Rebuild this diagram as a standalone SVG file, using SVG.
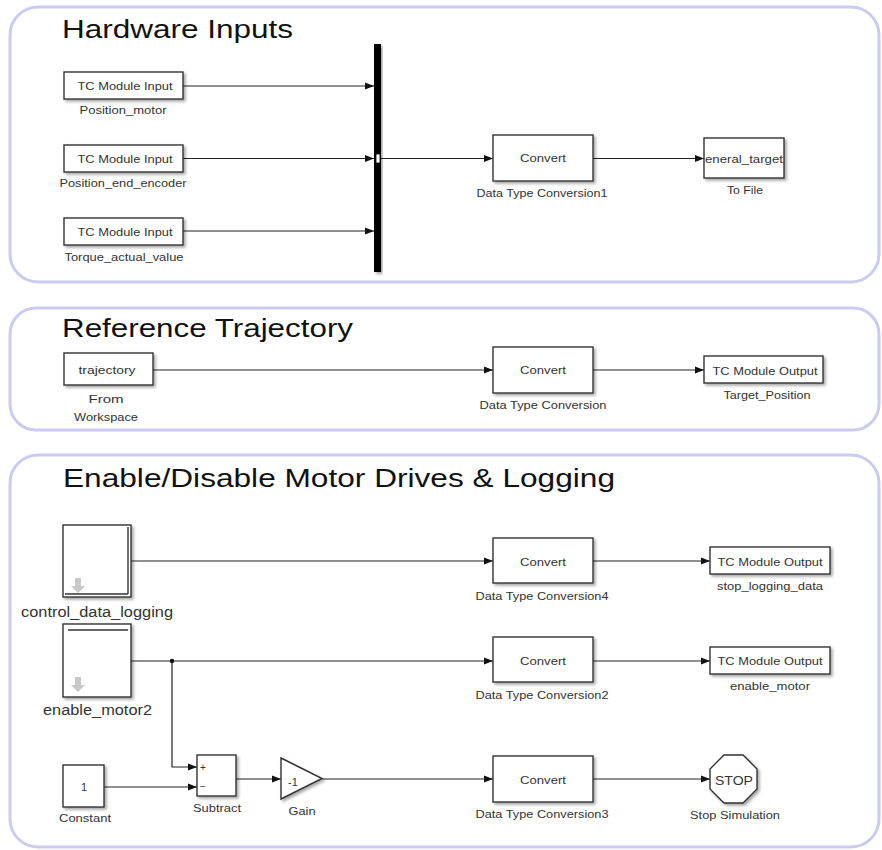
<svg xmlns="http://www.w3.org/2000/svg" width="882" height="850" viewBox="0 0 882 850">
<defs>
<style>
.panel{fill:#fff;stroke:#c9cbf3;stroke-width:3}
.blk{fill:#fff;stroke:#333;stroke-width:1.4;filter:url(#sh)}
.title{font-family:"Liberation Sans",Arial,sans-serif;font-size:25px;fill:#111}
.t{font-family:"Liberation Sans",Arial,sans-serif;font-size:11px;fill:#333;text-anchor:middle}
.tl{font-family:"Liberation Sans",Arial,sans-serif;font-size:14px;fill:#333;text-anchor:middle}
.w{fill:none;stroke:#222;stroke-width:1.2}
.ico{fill:#c8c8c8}
</style>
<filter id="sh" x="-10%" y="-10%" width="130%" height="140%">
<feDropShadow dx="2" dy="2" stdDeviation="1.5" flood-color="#000" flood-opacity="0.35"/>
</filter>
<marker id="ah" viewBox="0 0 10 10" refX="10" refY="5" markerWidth="9" markerHeight="9" markerUnits="userSpaceOnUse" orient="auto">
<path d="M0,1 L10,5 L0,9 z" fill="#111"/>
</marker>
</defs>
<rect width="882" height="850" fill="#fff"/>

<g id="panel-hardware">
<rect class="panel" x="10" y="7" width="869" height="275" rx="28"/>
<text class="title" x="62" y="38" textLength="231" lengthAdjust="spacingAndGlyphs">Hardware Inputs</text>
</g>
<g id="panel-reference">
<rect class="panel" x="10" y="308" width="869" height="122" rx="26"/>
<text class="title" x="62" y="337" textLength="291" lengthAdjust="spacingAndGlyphs">Reference Trajectory</text>
</g>
<g id="panel-enable">
<rect class="panel" x="10" y="455" width="869" height="392" rx="28"/>
<text class="title" x="63" y="487" textLength="552" lengthAdjust="spacingAndGlyphs">Enable/Disable Motor Drives &amp; Logging</text>
</g>

<g id="connectors">
<line class="w" x1="183" y1="86" x2="374" y2="86" marker-end="url(#ah)"/>
<line class="w" x1="183" y1="158.5" x2="374" y2="158.5" marker-end="url(#ah)"/>
<line class="w" x1="183" y1="231" x2="374" y2="231" marker-end="url(#ah)"/>
<line class="w" x1="381" y1="158.5" x2="493" y2="158.5" marker-end="url(#ah)"/>
<line class="w" x1="593" y1="158.5" x2="704" y2="158.5" marker-end="url(#ah)"/>
<line class="w" x1="153" y1="370" x2="493" y2="370" marker-end="url(#ah)"/>
<line class="w" x1="593" y1="370" x2="704" y2="370" marker-end="url(#ah)"/>
<line class="w" x1="131" y1="561" x2="493" y2="561" marker-end="url(#ah)"/>
<line class="w" x1="593" y1="561" x2="710" y2="561" marker-end="url(#ah)"/>
<line class="w" x1="131" y1="661" x2="493" y2="661" marker-end="url(#ah)"/>
<line class="w" x1="593" y1="661" x2="710" y2="661" marker-end="url(#ah)"/>
<circle cx="172" cy="661" r="2.2" fill="#111"/>
<path class="w" d="M172,661 V767 H197" marker-end="url(#ah)"/>
<line class="w" x1="104" y1="787" x2="197" y2="787" marker-end="url(#ah)"/>
<line class="w" x1="236" y1="779" x2="281" y2="779" marker-end="url(#ah)"/>
<line class="w" x1="322" y1="779" x2="493" y2="779" marker-end="url(#ah)"/>
<line class="w" x1="593" y1="779" x2="710" y2="779" marker-end="url(#ah)"/>
</g>

<g id="in-position-motor">
<rect class="blk" x="64" y="72" width="119" height="27"/>
<text class="t" x="125" y="90" textLength="95" lengthAdjust="spacingAndGlyphs">TC Module Input</text>
<text class="t" x="123" y="114" textLength="87" lengthAdjust="spacingAndGlyphs">Position_motor</text>
</g>
<g id="in-position-end-encoder">
<rect class="blk" x="64" y="145" width="119" height="27"/>
<text class="t" x="125" y="163" textLength="95" lengthAdjust="spacingAndGlyphs">TC Module Input</text>
<text class="t" x="123" y="187" textLength="127" lengthAdjust="spacingAndGlyphs">Position_end_encoder</text>
</g>
<g id="in-torque">
<rect class="blk" x="64" y="218" width="119" height="27"/>
<text class="t" x="125" y="236" textLength="95" lengthAdjust="spacingAndGlyphs">TC Module Input</text>
<text class="t" x="124" y="261" textLength="119" lengthAdjust="spacingAndGlyphs">Torque_actual_value</text>
</g>
<g id="mux-bar">
<rect x="374" y="44" width="7" height="228" fill="#000" filter="url(#sh)"/>
<rect x="376" y="154" width="4" height="9" fill="#fff" stroke="#000" stroke-width="0.8"/>
</g>
<g id="dtc1">
<rect class="blk" x="493" y="135" width="100" height="46"/>
<text class="t" x="543" y="162" textLength="46" lengthAdjust="spacingAndGlyphs">Convert</text>
<text class="t" x="542" y="197" textLength="131" lengthAdjust="spacingAndGlyphs">Data Type Conversion1</text>
</g>
<g id="to-file">
<rect class="blk" x="704" y="138" width="80" height="40"/>
<text class="t" x="744" y="163" textLength="78" lengthAdjust="spacingAndGlyphs">eneral_target</text>
<text class="t" x="745" y="194" textLength="36" lengthAdjust="spacingAndGlyphs">To File</text>
</g>

<g id="from-workspace">
<rect class="blk" x="64" y="353" width="89" height="32"/>
<text class="t" x="107" y="374" textLength="57" lengthAdjust="spacingAndGlyphs">trajectory</text>
<text class="t" x="106" y="403" textLength="35" lengthAdjust="spacingAndGlyphs">From</text>
<text class="t" x="106" y="421" textLength="64" lengthAdjust="spacingAndGlyphs">Workspace</text>
</g>
<g id="dtc">
<rect class="blk" x="493" y="347" width="100" height="46"/>
<text class="t" x="543" y="374" textLength="46" lengthAdjust="spacingAndGlyphs">Convert</text>
<text class="t" x="543" y="409" textLength="127" lengthAdjust="spacingAndGlyphs">Data Type Conversion</text>
</g>
<g id="out-target-position">
<rect class="blk" x="704" y="356" width="119" height="27"/>
<text class="t" x="765" y="375" textLength="105" lengthAdjust="spacingAndGlyphs">TC Module Output</text>
<text class="t" x="767" y="399" textLength="87" lengthAdjust="spacingAndGlyphs">Target_Position</text>
</g>

<g id="control-data-logging">
<rect class="blk" x="63" y="525" width="68" height="72"/>
<line x1="128" y1="527" x2="128" y2="594" stroke="#333" stroke-width="1.4"/>
<line x1="65" y1="594" x2="128" y2="594" stroke="#333" stroke-width="1.4"/>
<polygon class="ico" points="75,578 81,578 81,586 85,586 78,593 71,586 75,586"/>
<text class="tl" x="97" y="617" textLength="152" lengthAdjust="spacingAndGlyphs">control_data_logging</text>
</g>
<g id="enable-motor2">
<rect class="blk" x="63" y="624" width="68" height="73"/>
<line x1="68" y1="630" x2="128" y2="630" stroke="#333" stroke-width="1.4"/>
<polygon class="ico" points="75,677 81,677 81,685 85,685 78,692 71,685 75,685"/>
<text class="tl" x="97.5" y="715" textLength="109" lengthAdjust="spacingAndGlyphs">enable_motor2</text>
</g>
<g id="constant">
<rect class="blk" x="63" y="765" width="41" height="42"/>
<text class="t" x="84" y="791">1</text>
<text class="t" x="85" y="822" textLength="52" lengthAdjust="spacingAndGlyphs">Constant</text>
</g>
<g id="subtract">
<rect class="blk" x="197" y="755" width="39" height="41"/>
<text class="t" x="203" y="771" style="font-size:10px">+</text>
<text class="t" x="203" y="790" style="font-size:10px">−</text>
<text class="t" x="217" y="812" textLength="48" lengthAdjust="spacingAndGlyphs">Subtract</text>
</g>
<g id="gain">
<polygon points="281,758 322,778.5 281,799" fill="#fff" stroke="#333" stroke-width="1.4" filter="url(#sh)"/>
<text class="t" x="293" y="786">-1</text>
<text class="t" x="302" y="815" textLength="27" lengthAdjust="spacingAndGlyphs">Gain</text>
</g>
<g id="dtc4">
<rect class="blk" x="493" y="538" width="100" height="45"/>
<text class="t" x="543" y="566" textLength="46" lengthAdjust="spacingAndGlyphs">Convert</text>
<text class="t" x="542" y="600" textLength="133" lengthAdjust="spacingAndGlyphs">Data Type Conversion4</text>
</g>
<g id="out-stop-logging">
<rect class="blk" x="710" y="547" width="120" height="27"/>
<text class="t" x="770" y="566" textLength="105" lengthAdjust="spacingAndGlyphs">TC Module Output</text>
<text class="t" x="770" y="590" textLength="106" lengthAdjust="spacingAndGlyphs">stop_logging_data</text>
</g>
<g id="dtc2">
<rect class="blk" x="493" y="637" width="100" height="45"/>
<text class="t" x="543" y="665" textLength="46" lengthAdjust="spacingAndGlyphs">Convert</text>
<text class="t" x="542" y="699" textLength="133" lengthAdjust="spacingAndGlyphs">Data Type Conversion2</text>
</g>
<g id="out-enable-motor">
<rect class="blk" x="710" y="647" width="120" height="27"/>
<text class="t" x="770" y="665" textLength="105" lengthAdjust="spacingAndGlyphs">TC Module Output</text>
<text class="t" x="770" y="690" textLength="80" lengthAdjust="spacingAndGlyphs">enable_motor</text>
</g>
<g id="dtc3">
<rect class="blk" x="493" y="756" width="100" height="46"/>
<text class="t" x="543" y="784" textLength="46" lengthAdjust="spacingAndGlyphs">Convert</text>
<text class="t" x="542" y="818" textLength="133" lengthAdjust="spacingAndGlyphs">Data Type Conversion3</text>
</g>
<g id="stop-simulation">
<polygon points="724,755 743,755 757,769 757,789 743,803 724,803 710,789 710,769" fill="#fff" stroke="#333" stroke-width="1.4" filter="url(#sh)"/>
<text class="t" x="734" y="785" style="font-size:12px" textLength="38" lengthAdjust="spacingAndGlyphs">STOP</text>
<text class="t" x="735" y="819" textLength="90" lengthAdjust="spacingAndGlyphs">Stop Simulation</text>
</g>
</svg>
